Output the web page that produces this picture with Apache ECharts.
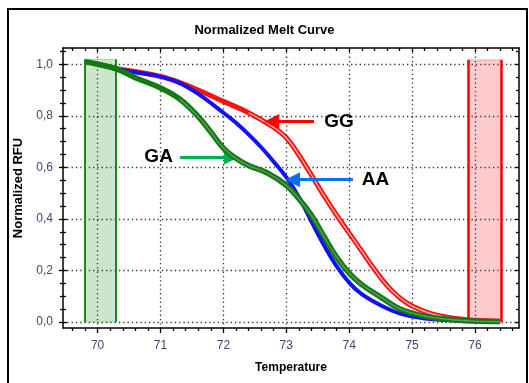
<!DOCTYPE html>
<html>
<head>
<meta charset="utf-8">
<script src="https://cdn.jsdelivr.net/npm/echarts@6/dist/echarts.min.js"></script>
<style>html,body{margin:0;padding:0;background:#fff;}#c{width:529px;height:383px;}</style>
</head>
<body>
<div id="c"></div>
<script>
// ---- data ----
const X_MAJOR = [70, 71, 72, 73, 74, 75, 76];
const X_MINOR = [69.6, 69.8, 70.2, 70.4, 70.6, 70.8, 71.2, 71.4, 71.6, 71.8, 72.2, 72.4, 72.6, 72.8,
  73.2, 73.4, 73.6, 73.8, 74.2, 74.4, 74.6, 74.8, 75.2, 75.4, 75.6, 75.8, 76.2, 76.4, 76.6];
const Y_MAJOR = [0, 0.2, 0.4, 0.6, 0.8, 1.0];
const Y_MINOR = [0.05, 0.1, 0.15, 0.25, 0.3, 0.35, 0.45, 0.5, 0.55, 0.65, 0.7, 0.75, 0.85, 0.9, 0.95, 1.05];

const T_GG = [69.8, 70.0, 70.3, 70.6, 71.0, 71.3, 71.6, 72.0, 72.4, 72.77, 73.0, 73.2, 73.4, 73.6, 73.8, 74.0, 74.2, 74.4, 74.6, 74.8, 75.0, 75.3, 75.6, 76.0, 76.4];
const V_GG = [1.01, 1.0, 0.983, 0.972, 0.953, 0.93, 0.9, 0.856, 0.812, 0.76, 0.715, 0.648, 0.57, 0.49, 0.415, 0.345, 0.275, 0.205, 0.142, 0.095, 0.062, 0.033, 0.017, 0.007, 0.003];

const T_AA = [69.8, 70.0, 70.3, 70.6, 71.0, 71.3, 71.6, 72.0, 72.2, 72.4, 72.6, 72.8, 73.0, 73.2, 73.4, 73.6, 73.8, 74.0, 74.2, 74.5, 74.8, 75.2, 75.6, 76.0, 76.4];
const V_AA = [1.01, 1.0, 0.983, 0.969, 0.952, 0.928, 0.885, 0.812, 0.773, 0.728, 0.678, 0.622, 0.562, 0.485, 0.39, 0.298, 0.217, 0.153, 0.108, 0.065, 0.034, 0.014, 0.007, 0.003, 0.001];

const T_GA = [69.8, 70.0, 70.3, 70.6, 71.0, 71.3, 71.6, 71.8, 72.0, 72.2, 72.4, 72.7, 73.0, 73.2, 73.4, 73.6, 73.8, 74.0, 74.2, 74.5, 74.8, 75.2, 75.6, 76.0, 76.4];
const V_GA = [1.01, 1.0, 0.982, 0.948, 0.908, 0.866, 0.797, 0.737, 0.675, 0.635, 0.607, 0.578, 0.53, 0.478, 0.414, 0.332, 0.252, 0.19, 0.145, 0.097, 0.052, 0.023, 0.01, 0.004, 0.002];

// shaded windows [x0, x1, top]
const WIN_GREEN = [69.79, 70.29, 1.019];
const WIN_RED = [75.9, 76.41, 1.017];

// annotations: label, text position, arrow tail, arrow tip
const ANN_GG = { text: 'GG', pos: [73.84, 0.778], tail: [73.44, 0.778], tip: [72.77, 0.778] };
const ANN_AA = { text: 'AA', pos: [74.42, 0.552], tail: [74.06, 0.552], tip: [73.1, 0.552] };
const ANN_GA = { text: 'GA', pos: [70.97, 0.640], tail: [71.31, 0.640], tip: [72.13, 0.640] };

const X_MIN = 69.45, X_MAX = 76.7, Y_MIN = -0.023, Y_MAX = 1.063;

// ---- helpers ----
const pairs = (t, v) => t.map((x, i) => [x, v[i]]);
const fromT = (t, v, t0) => pairs(t, v).filter(p => p[0] >= t0);
const labelColor = '#3a4878';
const FONT = 'Liberation Sans, Arial, sans-serif';
const SMOOTH = 0.4;

function tickAxis(kind, pos, values, inside, len, withLine) {
  return {
    type: 'value', position: pos, min: kind === 'x' ? X_MIN : Y_MIN, max: kind === 'x' ? X_MAX : Y_MAX,
    axisLine: { show: !!withLine, onZero: false, lineStyle: { color: '#000', width: 1.5 } },
    axisTick: { show: true, customValues: values, inside: inside, length: len, lineStyle: { color: '#000', width: 1.3 } },
    minorTick: { show: false },
    axisLabel: { show: false },
    splitLine: { show: false }
  };
}

function arrowLine(a, color) {
  return {
    silent: true, symbol: ['none', 'triangle'], symbolSize: [15, 15],
    label: { show: false },
    lineStyle: { color: color, width: 3, type: 'solid' },
    emphasis: { disabled: true },
    data: [[{ coord: a.tail }, { coord: a.tip }]]
  };
}
function annText(a) {
  return {
    silent: true, symbol: 'circle', symbolSize: 1,
    itemStyle: { color: 'rgba(0,0,0,0)' },
    label: { show: true, position: 'inside', formatter: a.text, color: '#000',
      fontSize: 19, fontWeight: 'bold', fontFamily: FONT },
    data: [{ coord: a.pos, name: a.text }]
  };
}
function winArea(w, fill, edge) {
  return {
    silent: true,
    itemStyle: { color: fill, borderColor: edge, borderWidth: 1 },
    data: [[{ coord: [w[0], 0] }, { coord: [w[1], w[2]] }]]
  };
}
function winLines(w) {
  return [[{ coord: [w[0], 0] }, { coord: [w[0], w[2]] }], [{ coord: [w[1], 0] }, { coord: [w[1], w[2]] }]];
}

const chart = echarts.init(document.getElementById('c'), null, { renderer: 'canvas' });
const option = {
  animation: false,
  backgroundColor: '#fff',
  title: {
    text: 'Normalized Melt Curve', left: 'center', top: 19,
    textStyle: { fontSize: 13, fontWeight: 'bold', color: '#000', fontFamily: FONT }
  },
  graphic: [{
    type: 'rect', silent: true, z: -1,
    shape: { x: 8, y: 9, width: 519, height: 400 },
    style: { fill: 'none', stroke: '#000', lineWidth: 2 }
  }],
  grid: { left: 63, right: 10, top: 48, bottom: 55, containLabel: false },
  xAxis: [
    {
      type: 'value', position: 'bottom', min: X_MIN, max: X_MAX,
      name: 'Temperature', nameLocation: 'middle', nameGap: 34,
      nameTextStyle: { fontSize: 12, fontWeight: 'bold', color: '#000', fontFamily: FONT },
      axisLine: { show: true, onZero: false, lineStyle: { color: '#000', width: 1.5 } },
      axisTick: { show: true, customValues: X_MAJOR, length: 5, lineStyle: { color: '#000', width: 1.3 } },
      minorTick: { show: false },
      axisLabel: { show: true, customValues: X_MAJOR, margin: 12, fontSize: 12, color: labelColor,
        fontFamily: FONT, formatter: v => String(Math.round(v)) },
      splitLine: { show: true, lineStyle: { color: '#333', width: 1.3, type: [1.3, 3] } }
    },
    tickAxis('x', 'bottom', X_MINOR, false, 3, false),
    tickAxis('x', 'top', X_MAJOR, true, 4, true),
    tickAxis('x', 'top', X_MINOR, true, 3, false)
  ],
  yAxis: [
    {
      type: 'value', position: 'left', min: Y_MIN, max: Y_MAX,
      name: 'Normalized RFU', nameLocation: 'middle', nameGap: 35, nameRotate: 90,
      nameTextStyle: { fontSize: 13, fontWeight: 'bold', color: '#000', fontFamily: FONT },
      axisLine: { show: true, onZero: false, lineStyle: { color: '#000', width: 1.5 } },
      axisTick: { show: true, customValues: Y_MAJOR, length: 4, lineStyle: { color: '#000', width: 1.3 } },
      minorTick: { show: false },
      axisLabel: { show: true, customValues: Y_MAJOR, margin: 10, fontSize: 12, color: labelColor,
        fontFamily: FONT, formatter: v => v.toFixed(1).replace('.', ',') },
      splitLine: { show: true, lineStyle: { color: '#333', width: 1.3, type: [1.3, 3] } }
    },
    tickAxis('y', 'left', Y_MAJOR, true, 4, false),
    tickAxis('y', 'left', Y_MINOR, false, 3, false),
    tickAxis('y', 'left', Y_MINOR, true, 3, false),
    tickAxis('y', 'right', Y_MAJOR, true, 4, true),
    tickAxis('y', 'right', Y_MINOR, true, 3, false)
  ],
  series: [
    {
      name: 'GG', type: 'line', showSymbol: false, smooth: SMOOTH,
      data: pairs(T_GG, V_GG),
      lineStyle: { color: '#ff1010', width: 5 },
      markArea: winArea(WIN_RED, 'rgba(255,0,0,0.2)', 'rgba(255,0,0,0.25)'),
      markLine: {
        silent: true, symbol: 'none', label: { show: false },
        lineStyle: { color: '#ff0000', width: 2.5, type: 'solid' },
        data: winLines(WIN_RED)
      },
      z: 3
    },
    {
      name: 'GG2', type: 'line', showSymbol: false, smooth: SMOOTH,
      data: fromT(T_GG, V_GG, 72.4),
      lineStyle: { color: '#ffb8b8', width: 1.3 },
      z: 3
    },
    {
      name: 'AA', type: 'line', showSymbol: false, smooth: SMOOTH,
      data: pairs(T_AA, V_AA),
      lineStyle: { color: '#1010ff', width: 4 },
      z: 4
    },
    {
      name: 'GA', type: 'line', showSymbol: false, smooth: SMOOTH,
      data: pairs(T_GA, V_GA),
      lineStyle: { color: '#137a13', width: 5.5 },
      markArea: winArea(WIN_GREEN, 'rgba(0,128,0,0.2)', 'rgba(0,128,0,0.25)'),
      markLine: {
        silent: true, symbol: 'none', label: { show: false },
        lineStyle: { color: '#1a8a1a', width: 2, type: 'solid' },
        data: winLines(WIN_GREEN)
      },
      z: 5
    },
    {
      name: 'GA2', type: 'line', showSymbol: false, smooth: SMOOTH,
      data: fromT(T_GA, V_GA, 71.3),
      lineStyle: { color: '#5a9e5a', width: 1.3 },
      z: 5
    },
    {
      name: 'annGG', type: 'line', data: [], z: 6,
      markLine: arrowLine(ANN_GG, '#ff0000'), markPoint: annText(ANN_GG)
    },
    {
      name: 'annAA', type: 'line', data: [], z: 6,
      markLine: arrowLine(ANN_AA, '#0a6ef0'), markPoint: annText(ANN_AA)
    },
    {
      name: 'annGA', type: 'line', data: [], z: 6,
      markLine: arrowLine(ANN_GA, '#00b050'), markPoint: annText(ANN_GA)
    }
  ]
};
chart.setOption(option);
</script>
</body>
</html>
